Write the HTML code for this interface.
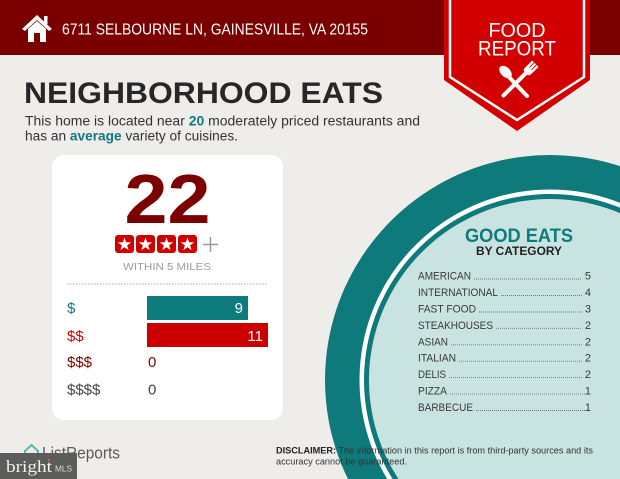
<!DOCTYPE html>
<html>
<head>
<meta charset="utf-8">
<style>
html,body{margin:0;padding:0;background:#efedea;width:620px;height:479px;overflow:hidden;}
svg{display:block;}
text{font-family:"Liberation Sans",sans-serif;}
</style>
</head>
<body>
<svg width="620" height="479" viewBox="0 0 620 479" xmlns="http://www.w3.org/2000/svg">
  <rect x="0" y="0" width="620" height="479" fill="#efedea"/>
  <!-- header -->
  <rect x="0" y="0" width="620" height="55" fill="#7a0000"/>
  <!-- house icon -->
  <g fill="#ffffff">
    <polygon points="22,29 37,15 52,29 49,31 37,20 25,31"/>
    <rect x="44" y="16" width="3.5" height="8"/>
    <polygon points="28,29 37,21 46,29 46,42 40,42 40,33 34,33 34,42 28,42"/>
  </g>
  <text x="62" y="34.5" font-size="15.5" fill="#ffffff" textLength="306" lengthAdjust="spacingAndGlyphs">6711 SELBOURNE LN, GAINESVILLE, VA 20155</text>

  <!-- banner -->
  <polygon points="444,0 590,0 590,80 517,131 444,80" fill="#d30000"/>
  <polyline points="450,0 450,77 517,120 584,77 584,0" fill="none" stroke="#ffffff" stroke-width="2.5"/>
  <text x="517" y="37" font-size="20" fill="#ffffff" text-anchor="middle" textLength="57" lengthAdjust="spacingAndGlyphs">FOOD</text>
  <text x="517" y="55.5" font-size="21" fill="#ffffff" text-anchor="middle" textLength="78" lengthAdjust="spacingAndGlyphs">REPORT</text>
  <!-- utensils -->
  <g stroke="#ffffff" stroke-linecap="round" fill="#ffffff">
    <line x1="509" y1="77" x2="527" y2="96" stroke-width="4"/>
    <ellipse cx="505.5" cy="72" rx="4.8" ry="7.5" transform="rotate(-45 505.5 72)" stroke="none"/>
    <g transform="translate(529 70) rotate(45)">
      <line x1="0" y1="4" x2="0" y2="36" stroke-width="4"/>
      <path d="M-4.5,-9 L-4.5,1 Q-4.5,5 0,5 Q4.5,5 4.5,1 L4.5,-9" stroke="none"/>
    </g>
  </g>
  <g transform="translate(529 70) rotate(45)" stroke="#d30000" stroke-width="0.9">
    <line x1="-1.5" y1="-10" x2="-1.5" y2="-2"/>
    <line x1="1.5" y1="-10" x2="1.5" y2="-2"/>
  </g>

  <!-- title -->
  <text x="24" y="103" font-size="30" font-weight="bold" fill="#272727" textLength="359" lengthAdjust="spacingAndGlyphs">NEIGHBORHOOD EATS</text>
  <text x="25" y="125.5" font-size="13.5" fill="#333333" textLength="395" lengthAdjust="spacingAndGlyphs">This home is located near <tspan font-weight="bold" fill="#0e7b7c">20</tspan> moderately priced restaurants and</text>
  <text x="25" y="140.5" font-size="13.5" fill="#333333" textLength="213" lengthAdjust="spacingAndGlyphs">has an <tspan font-weight="bold" fill="#0e7b7c">average</tspan> variety of cuisines.</text>

  <!-- circle (clipped to frame as paths) -->
  <path d="M347.95,479 A225,225 0 0 1 620,166.17 L620,479 Z" fill="#0f7a7c"/>
  <path d="M387.25,479 A190.5,190.5 0 0 1 620,202.83 L620,479 Z" fill="#ffffff"/>
  <path d="M392.54,479 A186,186 0 0 1 620,207.67 L620,479 Z" fill="#0f7a7c"/>
  <path d="M398.47,479 A181,181 0 0 1 620,213.08 L620,479 Z" fill="#c8e3e0"/>

  <text x="519" y="242" font-size="19.5" font-weight="bold" fill="#0e7b7c" text-anchor="middle" textLength="108" lengthAdjust="spacingAndGlyphs">GOOD EATS</text>
  <text x="519" y="255" font-size="11.5" font-weight="bold" fill="#222222" text-anchor="middle" textLength="86" lengthAdjust="spacingAndGlyphs">BY CATEGORY</text>

  <g font-size="11" fill="#3a3a3a">
    <text x="418" y="279.5" textLength="53" lengthAdjust="spacingAndGlyphs">AMERICAN</text>
    <text x="591" y="279.5" text-anchor="end">5</text>
    <text x="418" y="296" textLength="80" lengthAdjust="spacingAndGlyphs">INTERNATIONAL</text>
    <text x="591" y="296" text-anchor="end">4</text>
    <text x="418" y="312.4" textLength="58" lengthAdjust="spacingAndGlyphs">FAST FOOD</text>
    <text x="591" y="312.4" text-anchor="end">3</text>
    <text x="418" y="328.8" textLength="75" lengthAdjust="spacingAndGlyphs">STEAKHOUSES</text>
    <text x="591" y="328.8" text-anchor="end">2</text>
    <text x="418" y="345.3" textLength="30" lengthAdjust="spacingAndGlyphs">ASIAN</text>
    <text x="591" y="345.3" text-anchor="end">2</text>
    <text x="418" y="361.7" textLength="38" lengthAdjust="spacingAndGlyphs">ITALIAN</text>
    <text x="591" y="361.7" text-anchor="end">2</text>
    <text x="418" y="378.1" textLength="28" lengthAdjust="spacingAndGlyphs">DELIS</text>
    <text x="591" y="378.1" text-anchor="end">2</text>
    <text x="418" y="394.6" textLength="29" lengthAdjust="spacingAndGlyphs">PIZZA</text>
    <text x="591" y="394.6" text-anchor="end">1</text>
    <text x="418" y="411" textLength="55" lengthAdjust="spacingAndGlyphs">BARBECUE</text>
    <text x="591" y="411" text-anchor="end">1</text>
  </g>
  <g stroke="#6a6a6a" stroke-width="0.9" stroke-dasharray="0.9 1.1">
    <line x1="474" y1="279" x2="582" y2="279"/>
    <line x1="501" y1="295.5" x2="582" y2="295.5"/>
    <line x1="479" y1="312" x2="582" y2="312"/>
    <line x1="496" y1="328.3" x2="582" y2="328.3"/>
    <line x1="451" y1="344.8" x2="582" y2="344.8"/>
    <line x1="459" y1="361.2" x2="582" y2="361.2"/>
    <line x1="449" y1="377.6" x2="582" y2="377.6"/>
    <line x1="450" y1="394.1" x2="585" y2="394.1"/>
    <line x1="476" y1="410.5" x2="585" y2="410.5"/>
  </g>

  <!-- card -->
  <rect x="52" y="155" width="231" height="265" rx="12" fill="#ffffff"/>
  <text x="167.5" y="223" font-size="70" font-weight="bold" fill="#7d0000" text-anchor="middle" textLength="86" lengthAdjust="spacingAndGlyphs">22</text>
  <g>
    <rect x="115" y="235" width="19" height="18" rx="3" fill="#d10000"/>
    <rect x="136" y="235" width="19" height="18" rx="3" fill="#d10000"/>
    <rect x="157" y="235" width="19" height="18" rx="3" fill="#d10000"/>
    <rect x="178" y="235" width="19" height="18" rx="3" fill="#d10000"/>
    <g fill="#ffffff">
      <polygon transform="translate(124.5 244.5)" points="0,-7 1.65,-2.27 6.66,-2.16 2.67,0.87 4.11,5.66 0,2.8 -4.11,5.66 -2.67,0.87 -6.66,-2.16 -1.65,-2.27"/>
      <polygon transform="translate(145.5 244.5)" points="0,-7 1.65,-2.27 6.66,-2.16 2.67,0.87 4.11,5.66 0,2.8 -4.11,5.66 -2.67,0.87 -6.66,-2.16 -1.65,-2.27"/>
      <polygon transform="translate(166.5 244.5)" points="0,-7 1.65,-2.27 6.66,-2.16 2.67,0.87 4.11,5.66 0,2.8 -4.11,5.66 -2.67,0.87 -6.66,-2.16 -1.65,-2.27"/>
      <polygon transform="translate(187.5 244.5)" points="0,-7 1.65,-2.27 6.66,-2.16 2.67,0.87 4.11,5.66 0,2.8 -4.11,5.66 -2.67,0.87 -6.66,-2.16 -1.65,-2.27"/>
    </g>
  </g>
  <g stroke="#9a9a9a" stroke-width="1.5">
    <line x1="203" y1="244.5" x2="218" y2="244.5"/>
    <line x1="210.5" y1="237" x2="210.5" y2="252"/>
  </g>
  <text x="167" y="270" font-size="10.5" fill="#9b9b9b" text-anchor="middle" textLength="88" lengthAdjust="spacingAndGlyphs">WITHIN 5 MILES</text>
  <line x1="67" y1="284" x2="268" y2="284" stroke="#aaaaaa" stroke-width="1" stroke-dasharray="1.5 1.5"/>

  <text x="67" y="313" font-size="15" fill="#0f7e7f">$</text>
  <rect x="147" y="296" width="101" height="24" fill="#0e7b7c"/>
  <text x="243" y="313" font-size="15" fill="#ffffff" text-anchor="end">9</text>

  <text x="67" y="341" font-size="15" fill="#cc0000">$$</text>
  <rect x="147" y="323" width="121" height="24" fill="#cc0000"/>
  <text x="263" y="341" font-size="15" fill="#ffffff" text-anchor="end">11</text>

  <text x="67" y="367" font-size="15" fill="#7d0000">$$$</text>
  <text x="148" y="367" font-size="15" fill="#6a1010">0</text>

  <text x="67" y="394.5" font-size="15" fill="#444444">$$$$</text>
  <text x="148" y="394.5" font-size="15" fill="#444444">0</text>

  <!-- disclaimer -->
  <text x="276" y="453.5" font-size="9.5" fill="#333333" textLength="317" lengthAdjust="spacingAndGlyphs"><tspan font-weight="bold" fill="#222222">DISCLAIMER:</tspan> The information in this report is from third-party sources and its</text>
  <text x="276" y="464.5" font-size="9.5" fill="#333333" textLength="131" lengthAdjust="spacingAndGlyphs">accuracy cannot be guaranteed.</text>

  <!-- ListReports logo -->
  <path d="M25,451 L31.5,445 L38,451 L38,459 L25,459 Z" fill="none" stroke="#5ab5b8" stroke-width="2" stroke-linejoin="round"/>
  <text x="42" y="458.5" font-size="17" fill="#5a5a5a" textLength="78" lengthAdjust="spacingAndGlyphs">ListReports</text>

  <!-- bright MLS watermark -->
  <rect x="0" y="453" width="77" height="26" fill="#5c5c5a"/>
  <text x="6" y="472" style="font-family:'Liberation Serif',serif;" font-size="17" fill="#f2f2f2" textLength="46" lengthAdjust="spacingAndGlyphs">bright</text>
  <circle cx="49" cy="460" r="1.2" fill="#e05a3a"/>
  <text x="55" y="471.5" font-size="8.5" fill="#dddddd" textLength="17" lengthAdjust="spacingAndGlyphs">MLS</text>
</svg>
</body>
</html>
